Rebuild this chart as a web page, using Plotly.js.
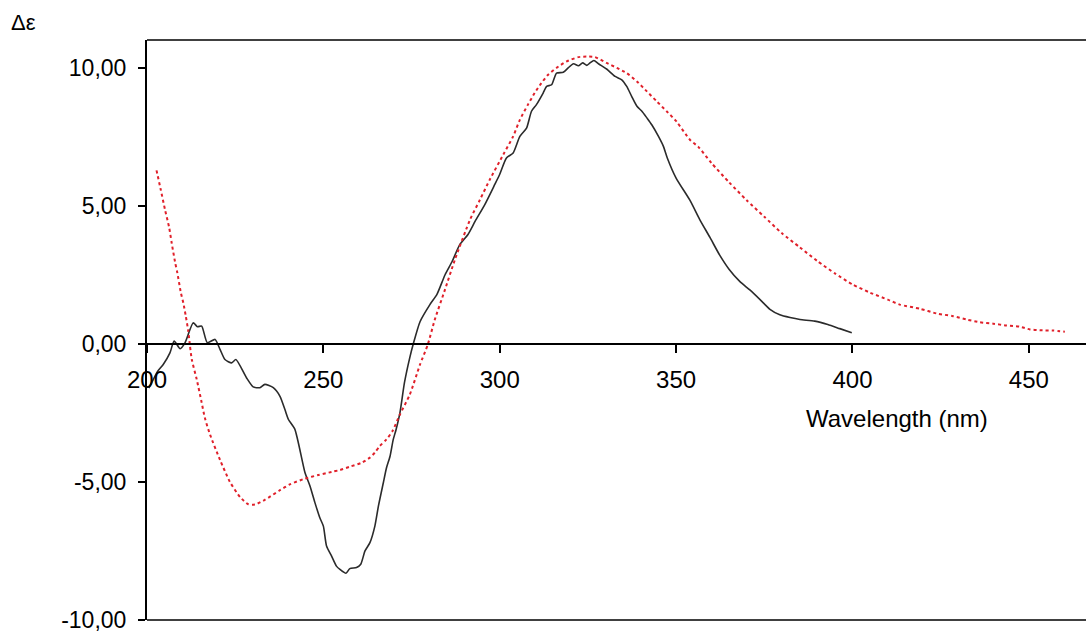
<!DOCTYPE html>
<html>
<head>
<meta charset="utf-8">
<script src="https://cdn.plot.ly/plotly-3.0.1.min.js"></script>
<style>
html,body{margin:0;padding:0;background:#fff;overflow:hidden;}
#chart{width:1086px;height:632px;}
</style>
</head>
<body>
<div id="chart"></div>
<script>
// Black (solid) CD spectrum
const blackNm = [200.5,201.3,203,204.6,206.5,207.7,209.4,210.8,213.1,214.3,215.5,217.1,219.3,220.7,222.1,224.0,225.2,228.2,230.1,232.0,233.4,235.8,237.7,239.1,240.1,241.9,244.8,246.2,247.6,249.0,250.0,250.9,252.3,253.7,254.7,256.4,257.5,259.4,260.6,261.8,263.2,264.6,265.6,267.0,267.9,268.9,269.8,270.6,271.7,273.0,274.5,275.5,277.4,280.2,282.2,284.5,286.5,288.7,291.0,293.0,295.8,298.6,300.0,301.9,303.8,305.7,307.6,309.0,310.4,312.3,313.3,314.7,316.1,318.0,319.4,320.9,322.3,323.5,324.7,325.6,326.7,328.0,330.3,332.7,334.6,336.0,337.4,338.9,340.3,341.7,343.1,345.0,346.4,347.5,350.0,353.9,356.7,359.6,362.4,365.0,368.1,370.9,373.8,376.6,379.4,382.3,385.1,389.3,393.0,396.4,399.8];
const blackDe = [-1.6,-1.41,-1.0,-0.75,-0.33,0.1,-0.18,0.04,0.76,0.62,0.64,0.04,0.16,-0.2,-0.57,-0.69,-0.57,-1.23,-1.56,-1.59,-1.47,-1.59,-1.9,-2.38,-2.74,-3.09,-4.67,-5.15,-5.75,-6.30,-6.60,-7.32,-7.68,-8.05,-8.17,-8.31,-8.14,-8.10,-7.98,-7.50,-7.20,-6.60,-5.88,-5.03,-4.49,-4.07,-3.47,-3.11,-2.5,-1.4,-0.5,0.0,0.8,1.42,1.79,2.5,2.98,3.6,3.96,4.43,5.05,5.77,6.14,6.73,6.91,7.51,7.81,8.42,8.66,9.08,9.32,9.38,9.80,9.83,9.99,10.14,10.07,10.17,10.08,10.17,10.26,10.14,9.95,9.68,9.56,9.32,8.96,8.60,8.42,8.18,7.93,7.51,7.15,6.73,6.0,5.2,4.5,3.85,3.2,2.7,2.25,1.95,1.6,1.25,1.05,0.95,0.88,0.82,0.7,0.55,0.4];

// Red (dotted) CD spectrum
const redNm = [202.7,203.9,205.1,206.3,207.0,208.0,208.6,209.6,210.3,211.0,211.7,212.2,212.7,214.1,215.5,216.4,217.9,220.7,223.5,226.4,228.6,230.6,233.4,237.7,240.5,244.8,248.6,252.3,254.7,257.5,260.8,263.2,264.6,266.0,267.9,269.6,271.7,274.5,277.4,279.6,281.6,284.5,287.3,291.6,294.4,297.2,301.0,303.8,305.7,308.0,309.9,311.8,313.7,316.1,318.9,322.3,324.7,327.0,330.3,333.2,336.0,338.9,341.7,344.5,347.3,350.1,353.9,356.3,360,365,370,375,380,385,390,395,400,405,410,413.4,419.1,423.8,428.5,432.3,436.1,439.9,443.7,447.4,450.3,453.1,456.9,460.2];
const redDe = [6.28,5.58,4.86,4.2,3.65,2.93,2.57,1.85,1.48,1.0,0.46,-0.09,-0.57,-1.29,-2.13,-2.68,-3.3,-4.2,-5.0,-5.55,-5.8,-5.82,-5.65,-5.3,-5.09,-4.88,-4.75,-4.64,-4.57,-4.45,-4.31,-4.12,-3.94,-3.70,-3.46,-3.16,-2.56,-1.84,-0.75,-0.03,0.88,1.97,3.05,4.5,5.22,5.95,6.85,7.51,8.11,8.66,9.08,9.44,9.74,9.99,10.22,10.38,10.40,10.38,10.17,9.99,9.80,9.50,9.14,8.78,8.42,8.05,7.39,7.13,6.55,5.85,5.2,4.6,4.0,3.5,3.0,2.55,2.15,1.85,1.6,1.42,1.27,1.10,1.00,0.88,0.78,0.73,0.66,0.62,0.52,0.49,0.48,0.44];

// Axis ticks
const xTickVals = [200,250,300,350,400,450];
const xTickText = ['200','250','300','350','400','450'];
const yTickVals = [-10,-5,0,5,10];
const yTickText = ['-10,00','-5,00','0,00','5,00','10,00'];

const xRange = [200, 466.2];
const yRange = [-10, 11];

const FONT = 'Liberation Sans, Arial, sans-serif';

const traces = [
  {x: blackNm, y: blackDe, type:'scatter', mode:'lines',
   line:{color:'#2b2b2b', width:1.6, shape:'spline', smoothing:0.6}, hoverinfo:'skip'},
  {x: redNm, y: redDe, type:'scatter', mode:'lines',
   line:{color:'#e0202a', width:2, dash:'3px,3px', shape:'spline', smoothing:0.6}, hoverinfo:'skip'}
];

const layout = {
  width:1086, height:632,
  margin:{l:147, r:0, t:40, b:12, pad:0},
  paper_bgcolor:'#ffffff', plot_bgcolor:'#ffffff',
  showlegend:false,
  font:{family:FONT, color:'#000'},
  xaxis:{
    range:xRange, anchor:'free', position:(0 - yRange[0])/(yRange[1]-yRange[0]),
    showline:true, linecolor:'#000', linewidth:2,
    ticks:'outside', ticklen:8, tickwidth:2, tickcolor:'#000',
    tickvals:xTickVals, ticktext:xTickText,
    tickfont:{family:FONT, size:24, color:'#000'},
    ticklabelstandoff:6, ticklabeloverflow:'allow',
    showgrid:false, zeroline:false, fixedrange:true
  },
  yaxis:{
    range:yRange,
    showline:true, linecolor:'#000', linewidth:2,
    ticks:'outside', ticklen:7, tickwidth:2, tickcolor:'#000',
    tickvals:yTickVals, ticktext:yTickText,
    tickfont:{family:FONT, size:23, color:'#000'},
    ticklabelstandoff:7, ticklabeloverflow:'allow',
    showgrid:false, zeroline:false, fixedrange:true
  },
  shapes:[
    {type:'line', xref:'paper', yref:'paper', x0:0, x1:1, y0:1, y1:1, line:{color:'#000', width:1.6}},
    {type:'line', xref:'paper', yref:'paper', x0:0, x1:1, y0:0, y1:0, line:{color:'#000', width:1.6}}
  ],
  annotations:[
    {text:'Wavelength (nm)', xref:'x', yref:'y', x:412.5, y:-2.7, showarrow:false,
     font:{family:FONT, size:24, color:'#000'}, xanchor:'center', yanchor:'middle'},
    {text:'Δε', xref:'paper', yref:'paper', x:(23 - 147)/939, y:1 + (40 - 22)/580, showarrow:false,
     font:{family:FONT, size:22, color:'#000'}, xanchor:'center', yanchor:'middle'}
  ]
};

Plotly.newPlot('chart', traces, layout, {displayModeBar:false, staticPlot:true});
</script>
</body>
</html>
